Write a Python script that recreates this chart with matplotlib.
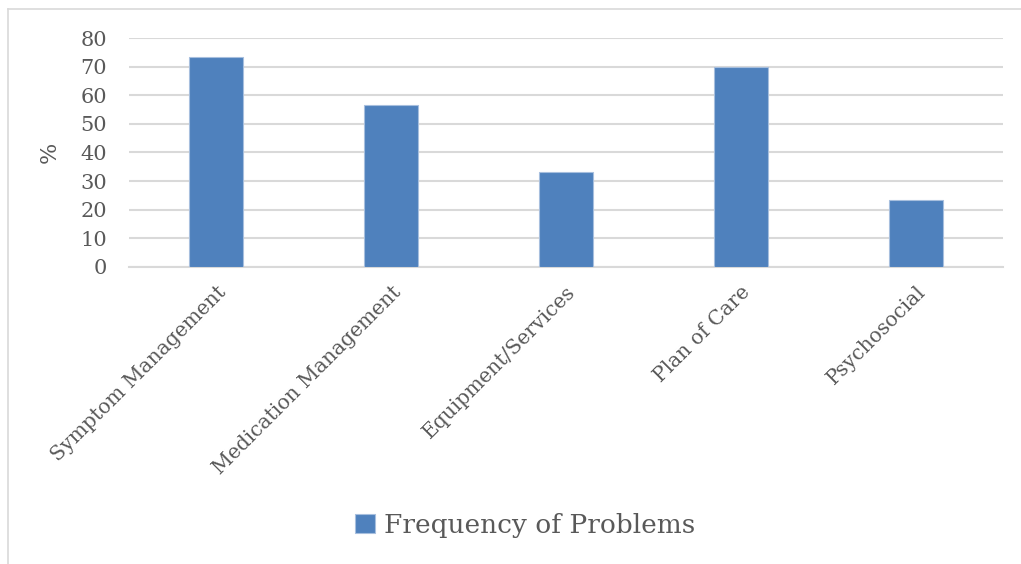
import matplotlib.pyplot as plt
from matplotlib.lines import Line2D

# problem categories and percentage of cases
categories = ['Symptom Management', 'Medication Management', 'Equipment/Services',
              'Plan of Care', 'Psychosocial']
values = [73.3, 56.7, 33.3, 70.0, 23.3]
series_name = 'Frequency of Problems'

plt.rcParams['font.family'] = ['DejaVu Serif']
txt = '#595959'
bar_col = '#4F81BD'
W, H = 1021, 564

fig = plt.figure(figsize=(W / 100, H / 100), dpi=100)
ax = fig.add_axes([129 / W, 1 - 267 / H, (1003 - 129) / W, (267 - 38) / H])

x = range(len(categories))
ax.bar(x, values, width=0.31, color=bar_col, edgecolor='#A7BFDE', linewidth=0.8,
       zorder=3, label=series_name)
ax.set_xlim(-0.5, len(categories) - 0.5)
ax.set_ylim(0, 80)
ax.set_yticks(range(0, 81, 10))
ax.yaxis.grid(True, color='#D9D9D9', linewidth=1.5, zorder=0)
ax.tick_params(axis='y', length=0, labelsize=15, labelcolor=txt, pad=16)
ax.tick_params(axis='x', length=0)
ax.set_xticks(list(x))
ax.set_xticklabels(categories, rotation=45, ha='right', rotation_mode='anchor',
                   fontsize=14.6, color=txt)
for lab in ax.get_xticklabels():
    lab.set_y(-0.045)
for s in ['top', 'right', 'left']:
    ax.spines[s].set_visible(False)
ax.spines['bottom'].set_color('#D9D9D9')
ax.spines['bottom'].set_linewidth(1.5)

ax.set_ylabel('%', fontsize=16, color=txt, labelpad=14)

leg = fig.legend(loc='center', bbox_to_anchor=(525 / W, 1 - 525 / H), frameon=False,
                 fontsize=19, handlelength=0.75, handleheight=0.75, handletextpad=0.35)
for t in leg.get_texts():
    t.set_color(txt)

# outer chart border
fig.add_artist(Line2D([8 / W, 1], [1 - 9 / H, 1 - 9 / H], transform=fig.transFigure,
                      color='#D9D9D9', linewidth=1.2))
fig.add_artist(Line2D([8 / W, 8 / W], [0, 1 - 9 / H], transform=fig.transFigure,
                      color='#D9D9D9', linewidth=1.2))

fig.savefig('out.png', dpi=100)
